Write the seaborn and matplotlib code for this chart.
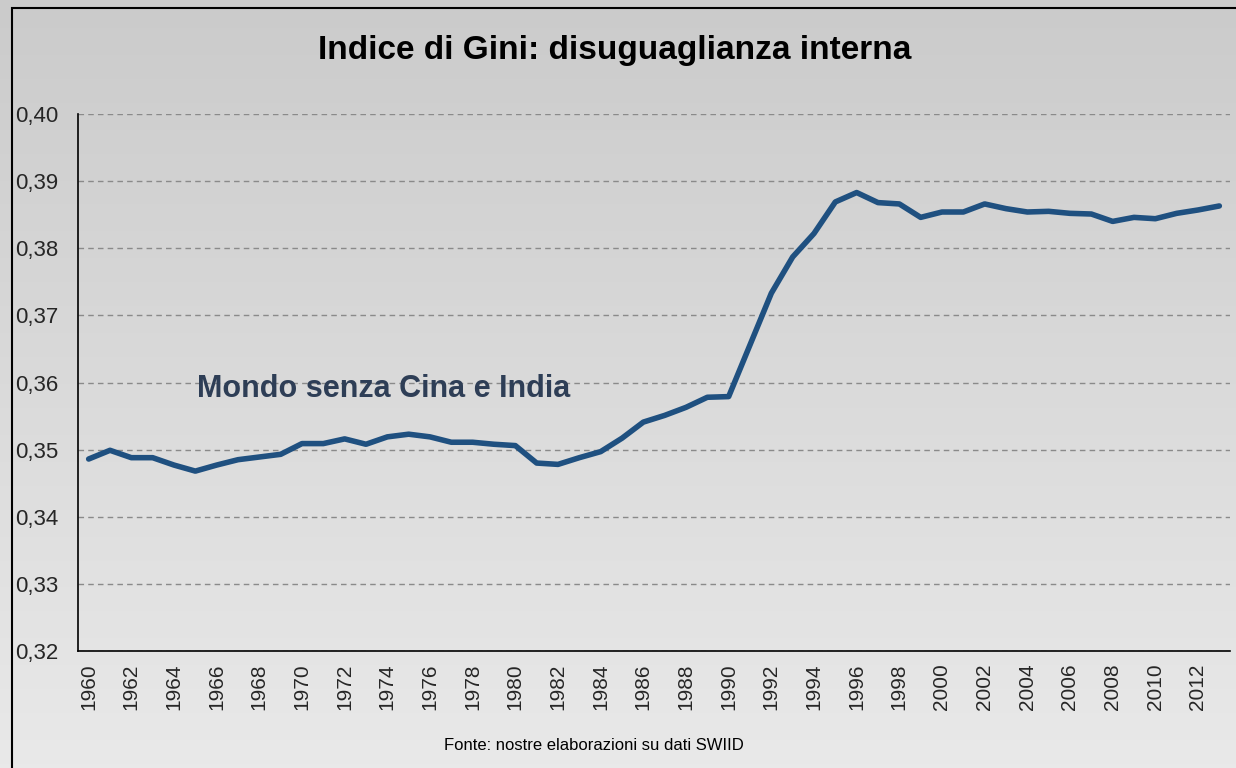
import numpy as np
import pandas as pd
import matplotlib
matplotlib.use("Agg")
import matplotlib.pyplot as plt
import matplotlib.ticker as mticker
from matplotlib.patches import Rectangle
import seaborn as sns

sns.set_style("white")
plt.rcParams['font.family'] = ['Liberation Sans', 'DejaVu Sans']

# dati
anni = list(range(1960, 2014))
gini = [0.3486, 0.3499, 0.3488, 0.3488, 0.3477, 0.3468, 0.3477, 0.3485, 0.3489, 0.3493,
        0.3509, 0.3509, 0.3516, 0.3508, 0.3519, 0.3523, 0.3519, 0.3511, 0.3511, 0.3508,
        0.3506, 0.3480, 0.3478, 0.3488, 0.3497, 0.3517, 0.3541, 0.3551, 0.3563, 0.3578,
        0.3579, 0.3656, 0.3733, 0.3787, 0.3822, 0.3869, 0.3883, 0.3868, 0.3866, 0.3846,
        0.3854, 0.3854, 0.3866, 0.3859, 0.3854, 0.3855, 0.3852, 0.3851, 0.3840, 0.3846,
        0.3844, 0.3852, 0.3857, 0.3863]
y_ticks = [0.32, 0.33, 0.34, 0.35, 0.36, 0.37, 0.38, 0.39, 0.40]
titolo = "Indice di Gini: disuguaglianza interna"
etichetta = "Mondo senza Cina e India"
fonte = "Fonte: nostre elaborazioni su dati SWIID"

df = pd.DataFrame({"anno": anni, "gini": gini})

fig = plt.figure(figsize=(12.36, 7.68), dpi=100)
fig.patch.set_facecolor("#cdcdcd")

# sfondo sfumato
bg = fig.add_axes([0, 0, 1, 1], zorder=0)
grad = np.linspace(0, 1, 256).reshape(-1, 1)
cmap = matplotlib.colors.LinearSegmentedColormap.from_list("g", ["#cbcbcb", "#e9e9e9"])
bg.imshow(grad, aspect="auto", cmap=cmap, extent=[0, 1, 0, 1], origin="upper")
bg.set_xlim(0, 1)
bg.set_ylim(0, 1)
bg.axis("off")
bg.add_patch(Rectangle((12 / 1236, -0.1), 1.1, (768 - 8) / 768 + 0.1, fill=False,
                       edgecolor="black", linewidth=1.5))

ax = fig.add_axes([78 / 1236, 1 - 651 / 768, (1230 - 78) / 1236, (651 - 114) / 768], zorder=1)
ax.set_facecolor("none")

sns.lineplot(data=df, x="anno", y="gini", ax=ax, color="#1f5080", linewidth=4)

ax.set_xlim(1959.5, 2013.5)
ax.set_ylim(0.32, 0.40)
ax.set_yticks(y_ticks)
ax.yaxis.set_major_formatter(mticker.FuncFormatter(lambda v, p: f"{v:.2f}".replace(".", ",")))
ax.set_xticks(list(range(1960, 2013, 2)))
ax.set_xticks(np.arange(1959.5, 2014, 1), minor=True)
ax.tick_params(axis="x", which="major", length=0, rotation=90, labelsize=15, pad=9)
ax.tick_params(axis="x", which="minor", length=5, direction="out", color="black")
ax.tick_params(axis="y", length=5, direction="out", color="black", labelsize=16, pad=9)
for t in ax.get_xticklabels():
    t.set_va("top")
ax.yaxis.grid(True, linestyle=(0, (4, 3)), color="#8a8a8a", linewidth=1)
ax.set_axisbelow(True)
for s in ["top", "right"]:
    ax.spines[s].set_visible(False)
for s in ["left", "bottom"]:
    ax.spines[s].set_color("black")
    ax.spines[s].set_linewidth(1.2)
ax.set_xlabel("")
ax.set_ylabel("")

fig.text(615 / 1236, 1 - 51 / 768, titolo, ha="center", va="center", fontsize=24,
         fontweight="bold", color="black")
ax.text(1965.1, 0.3591, etichetta, ha="left", va="center", fontsize=22,
        fontweight="bold", color="#2e3e56")
fig.text(594 / 1236, 1 - 746 / 768, fonte, ha="center", va="center", fontsize=12,
         color="black")

fig.savefig("out.png", dpi=100)
